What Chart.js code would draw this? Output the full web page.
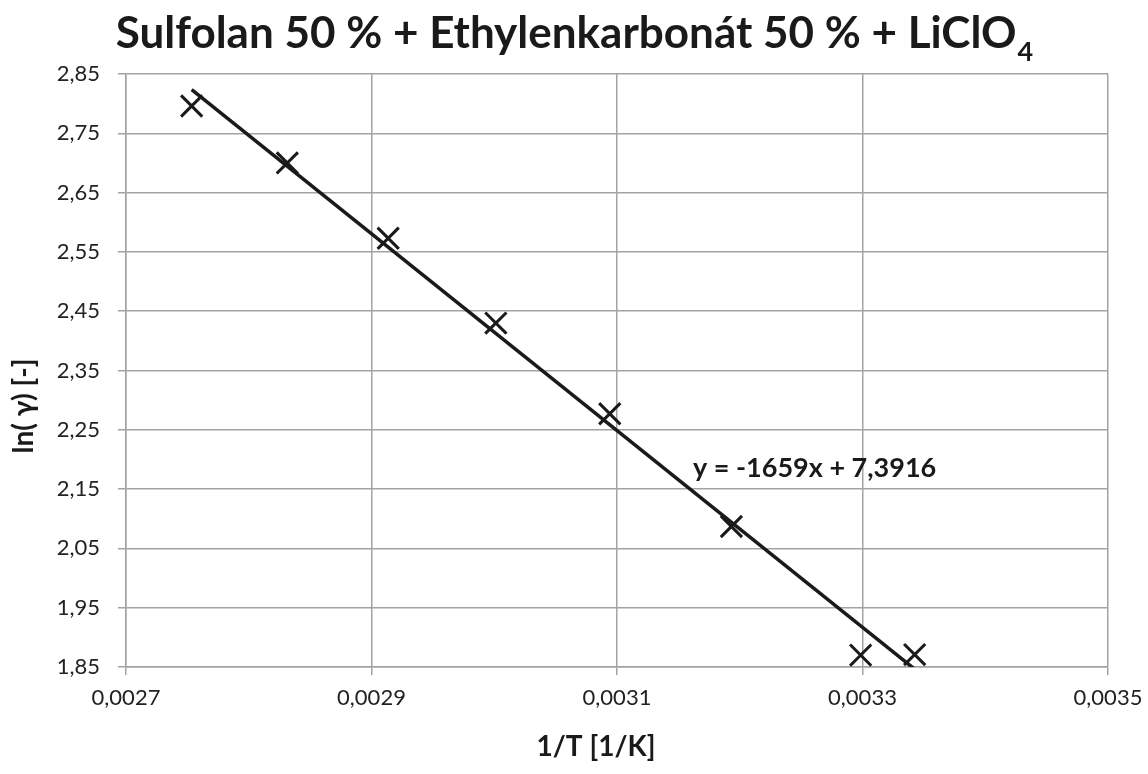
<!DOCTYPE html>
<html>
<head>
<meta charset="utf-8">
<script src="https://cdn.jsdelivr.net/npm/chart.js@4"></script>
<style>
html,body{margin:0;padding:0;background:#fff;}
#wrap{width:1148px;height:774px;position:relative;}
</style>
</head>
<body>
<div id="wrap"><canvas id="c" width="1148" height="774"></canvas></div>
<script>
// Data
const invT = [0.0027535, 0.0028314, 0.0029136, 0.0030013, 0.0030941, 0.0031932, 0.0032985, 0.0033425];
const lnGamma = [2.796, 2.700, 2.573, 2.430, 2.277, 2.087, 1.870, 1.871];
const slope = -1659;
const intercept = 7.3916;
const xTicks = [0.0027, 0.0029, 0.0031, 0.0033, 0.0035];
const yTicks = [1.85, 1.95, 2.05, 2.15, 2.25, 2.35, 2.45, 2.55, 2.65, 2.75, 2.85];
const titleMain = 'Sulfolan 50 % + Ethylenkarbonát 50 % + LiClO';
const titleSub = '4';
const equationText = 'y = -1659x + 7,3916';
const xTitle = '1/T [1/K]';
const yTitle = 'ln( γ) [-]';

const FONT = 'Lato, "Open Sans", sans-serif';
const INK = '#1a1a1a';
const pts = invT.map((x, i) => ({x: x, y: lnGamma[i]}));
const xMin = Math.min(...invT), xMax = Math.max(...invT);
const trend = [{x: xMin, y: slope * xMin + intercept}, {x: xMax, y: slope * xMax + intercept}];

const fmt = v => v.toString().replace('.', ',');

const textPlugin = {
  id: 'texts',
  afterDraw(chart) {
    const ctx = chart.ctx;
    ctx.save();
    ctx.fillStyle = INK;
    ctx.textBaseline = 'alphabetic';
    // title with subscript
    ctx.font = 'bold 44px ' + FONT;
    const w1 = ctx.measureText(titleMain).width;
    ctx.font = 'bold 27px ' + FONT;
    const w2 = ctx.measureText(titleSub).width;
    let x = 574 - (w1 + w2) / 2;
    ctx.textAlign = 'left';
    ctx.font = 'bold 44px ' + FONT;
    ctx.fillText(titleMain, x, 48);
    ctx.font = 'bold 27px ' + FONT;
    ctx.fillText(titleSub, x + w1 + 1, 61);
    // equation label
    ctx.font = 'bold 27px ' + FONT;
    ctx.fillText(equationText, 693, 477);
    // x axis title
    ctx.textAlign = 'center';
    ctx.textBaseline = 'middle';
    ctx.font = 'bold 28px ' + FONT;
    ctx.fillText(xTitle, 596, 747);
    // y axis title
    ctx.translate(24, 406);
    ctx.rotate(-Math.PI / 2);
    ctx.fillText(yTitle, 0, 0);
    ctx.restore();
  }
};

new Chart(document.getElementById('c'), {
  type: 'scatter',
  data: {
    datasets: [
      {
        label: 'data',
        data: pts,
        pointStyle: 'crossRot',
        pointRadius: 15,
        pointHoverRadius: 15,
        pointBorderWidth: 3,
        borderColor: INK,
        backgroundColor: INK,
        showLine: false,
        order: 1
      },
      {
        label: 'trend',
        data: trend,
        showLine: true,
        borderColor: INK,
        borderWidth: 3.5,
        pointRadius: 0,
        pointHoverRadius: 0,
        fill: false,
        order: 2
      }
    ]
  },
  options: {
    responsive: false,
    animation: false,
    events: [],
    layout: {padding: {top: 74, right: 40, left: 0, bottom: 0}},
    plugins: {
      legend: {display: false},
      title: {display: false},
      tooltip: {enabled: false}
    },
    scales: {
      x: {
        type: 'linear',
        min: 0.0027, max: 0.0035,
        afterFit(s) { s.height = 107; s.paddingRight = 0; s.paddingLeft = 0; },
        afterBuildTicks(s) { s.ticks = xTicks.map(v => ({value: v})); },
        ticks: {
          color: '#222',
          font: {family: FONT, size: 22},
          padding: 10,
          maxRotation: 0,
          callback: v => fmt(v)
        },
        grid: {color: '#a3a3a3', lineWidth: 1.5, tickLength: 8, drawTicks: true},
        border: {color: '#a3a3a3', width: 1.5}
      },
      y: {
        type: 'linear',
        min: 1.85, max: 2.85,
        afterFit(s) { s.width = 126; s.paddingTop = 0; s.paddingBottom = 0; },
        afterBuildTicks(s) { s.ticks = yTicks.map(v => ({value: v})); },
        ticks: {
          color: '#222',
          font: {family: FONT, size: 22},
          padding: 18,
          callback: v => fmt(v)
        },
        grid: {color: '#a3a3a3', lineWidth: 1.5, tickLength: 8, drawTicks: true},
        border: {color: '#a3a3a3', width: 1.5}
      }
    }
  },
  plugins: [textPlugin]
});
</script>
</body>
</html>
